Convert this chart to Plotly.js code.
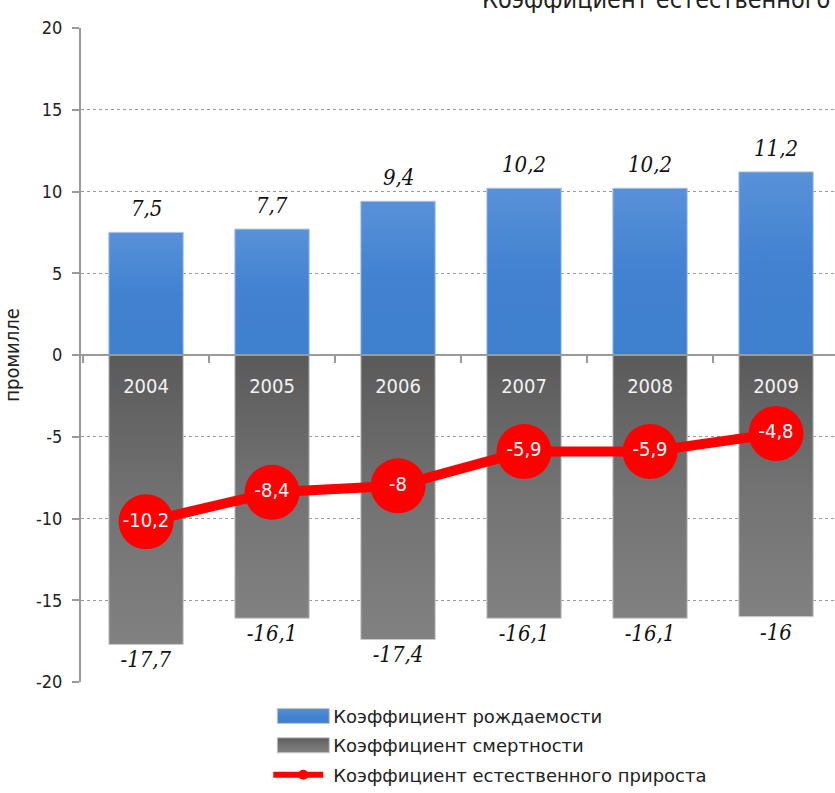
<!DOCTYPE html>
<html>
<head>
<meta charset="utf-8">
<script src="https://cdn.plot.ly/plotly-3.0.1.min.js"></script>
<style>html,body{margin:0;padding:0;background:#fff;}#chart{width:835px;height:793px;}</style>
</head>
<body>
<div id="chart"></div>
<script>
const years = ['2004', '2005', '2006', '2007', '2008', '2009'];
const birthRate = [7.5, 7.7, 9.4, 10.2, 10.2, 11.2];
const deathRate = [-17.7, -16.1, -17.4, -16.1, -16.1, -16];
const naturalGrowth = [-10.2, -8.4, -8, -5.9, -5.9, -4.8];
const seriesNames = ['Коэффициент рождаемости', 'Коэффициент смертности', 'Коэффициент естественного прироста'];
const yTickVals = [-20, -15, -10, -5, 0, 5, 10, 15, 20];
const yTickText = ['-20', '-15', '-10', '-5', '0', '5', '10', '15', '20'];
const titleText = 'Коэффициент естественного прироста';
const yTitle = 'промилле';

const fmt = v => String(v).replace('.', ',');
const uiFont = '"DejaVu Sans Condensed", "DejaVu Sans", sans-serif';
const legFont = '"DejaVu Sans", sans-serif';
const valFont = '"DejaVu Serif Condensed", "DejaVu Serif", serif';

const traces = [
  {
    type: 'bar', name: seriesNames[0], x: years, y: birthRate, legendgroup: 'a',
    marker: {color: '#4683d2', line: {color: '#a9c4e8', width: 1}},
    width: 0.59, hoverinfo: 'skip'
  },
  {
    type: 'bar', name: seriesNames[1], x: years, y: deathRate, legendgroup: 'b',
    text: deathRate.map(fmt), textposition: 'outside', cliponaxis: false,
    textfont: {family: valFont, size: 22, color: '#111', style: 'italic'},
    marker: {color: '#6e6e6e', line: {color: '#c8c8c8', width: 1}},
    width: 0.59, hoverinfo: 'skip'
  },
  {
    type: 'scatter', mode: 'lines+markers+text', name: seriesNames[2], x: years, y: naturalGrowth,
    legendgroup: 'c',
    text: naturalGrowth.map(fmt), textposition: 'middle center',
    textfont: {family: uiFont, size: 20, color: '#ffffff'},
    line: {color: '#ff0000', width: 10},
    marker: {color: '#ff0000', size: 55, symbol: 'circle'},
    cliponaxis: false, hoverinfo: 'skip'
  }
];

// category axes place annotations by category index
const birthLabels = years.map((yr, i) => ({
  text: fmt(birthRate[i]), x: i, y: birthRate[i], xref: 'x', yref: 'y',
  yanchor: 'bottom', yshift: 9, showarrow: false,
  font: {family: valFont, size: 22, color: '#111', style: 'italic'}
}));

const layout = {
  width: 835, height: 793,
  margin: {l: 81, r: 0, t: 28, b: 111, autoexpand: false},
  paper_bgcolor: '#ffffff', plot_bgcolor: '#ffffff',
  barmode: 'overlay',
  showlegend: true,
  font: {family: uiFont, size: 17, color: '#222'},
  xaxis: {
    type: 'category', range: [-0.516, 5.468],
    anchor: 'free', position: 0.5,
    showline: true, linecolor: '#9a9a9a', linewidth: 2,
    ticks: 'outside', tickson: 'boundaries', ticklen: 7, tickcolor: '#9a9a9a', tickwidth: 2,
    tickfont: {family: uiFont, size: 20, color: '#f2f2f2'},
    ticklabelstandoff: 13,
    showgrid: false, zeroline: false, fixedrange: true
  },
  yaxis: {
    range: [-20, 20], tickmode: 'array', tickvals: yTickVals, ticktext: yTickText,
    showline: true, linecolor: '#9a9a9a', linewidth: 2,
    ticks: 'outside', ticklen: 7, tickcolor: '#9a9a9a', tickwidth: 2,
    tickfont: {family: uiFont, size: 18, color: '#222'},
    ticklabelstandoff: 6,
    showgrid: true, gridcolor: '#9a9a9a', griddash: 'dot', gridwidth: 1,
    zeroline: false,
    title: {text: yTitle, font: {family: uiFont, size: 20, color: '#222'}, standoff: 14},
    fixedrange: true
  },
  legend: {
    x: 0.255, xanchor: 'left', y: -0.024, yanchor: 'top',
    orientation: 'v', traceorder: 'grouped',
    font: {family: legFont, size: 18, color: '#222'},
    bgcolor: 'rgba(0,0,0,0)', itemwidth: 50, tracegroupgap: 3
  },
  annotations: [
    {
      text: titleText, xref: 'paper', yref: 'paper',
      x: (480 - 81) / 754, xanchor: 'left', y: 1.019, yanchor: 'bottom',
      showarrow: false, font: {family: uiFont, size: 25, color: '#222'}
    }
  ].concat(birthLabels)
};

Plotly.newPlot('chart', traces, layout, {staticPlot: true}).then(gd => {
  const svg = gd.querySelector('.main-svg');
  const ns = 'http://www.w3.org/2000/svg';
  let defs = svg.querySelector('defs');
  if (!defs) { defs = document.createElementNS(ns, 'defs'); svg.insertBefore(defs, svg.firstChild); }
  function grad(id, c1, c2, c3) {
    const g = document.createElementNS(ns, 'linearGradient');
    g.setAttribute('id', id); g.setAttribute('x1', '0'); g.setAttribute('y1', '0');
    g.setAttribute('x2', '0'); g.setAttribute('y2', '1');
    [[0, c1], [0.5, c2], [1, c3]].forEach(([o, c]) => {
      const s = document.createElementNS(ns, 'stop');
      s.setAttribute('offset', o); s.setAttribute('stop-color', c); g.appendChild(s);
    });
    defs.appendChild(g);
  }
  grad('gBlue', '#5891d8', '#4282d1', '#3e7fce');
  grad('gGrey', '#5a5a5a', '#727272', '#818181');
  const ids = ['gBlue', 'gGrey'];
  gd.querySelectorAll('.barlayer .trace').forEach((t, i) => {
    t.querySelectorAll('.point path').forEach(p => { p.style.fill = 'url(#' + ids[i] + ')'; });
  });
  // legend symbols: wide rectangles for bars, thinner line with small dot
  const items = gd.querySelectorAll('.legend .traces');
  items.forEach((it, i) => {
    if (i < 2) {
      it.querySelectorAll('.legendpoints path').forEach(p => {
        p.setAttribute('d', 'M26,7.5H-26V-7.5H26Z');
        p.style.fill = 'url(#' + ids[i] + ')';
        p.style.stroke = '#c8c8c8'; p.style.strokeWidth = '1px';
      });
    } else {
      it.querySelectorAll('.legendlines path').forEach(p => {
        p.setAttribute('d', 'M-18,0h68'); p.style.strokeWidth = '6px';
      });
      it.querySelectorAll('.legendpoints path').forEach(p => {
        p.setAttribute('d', 'M5,0A5,5 0 1,1 0,-5A5,5 0 0,1 5,0Z');
      });
    }
  });
});
</script>
</body>
</html>
